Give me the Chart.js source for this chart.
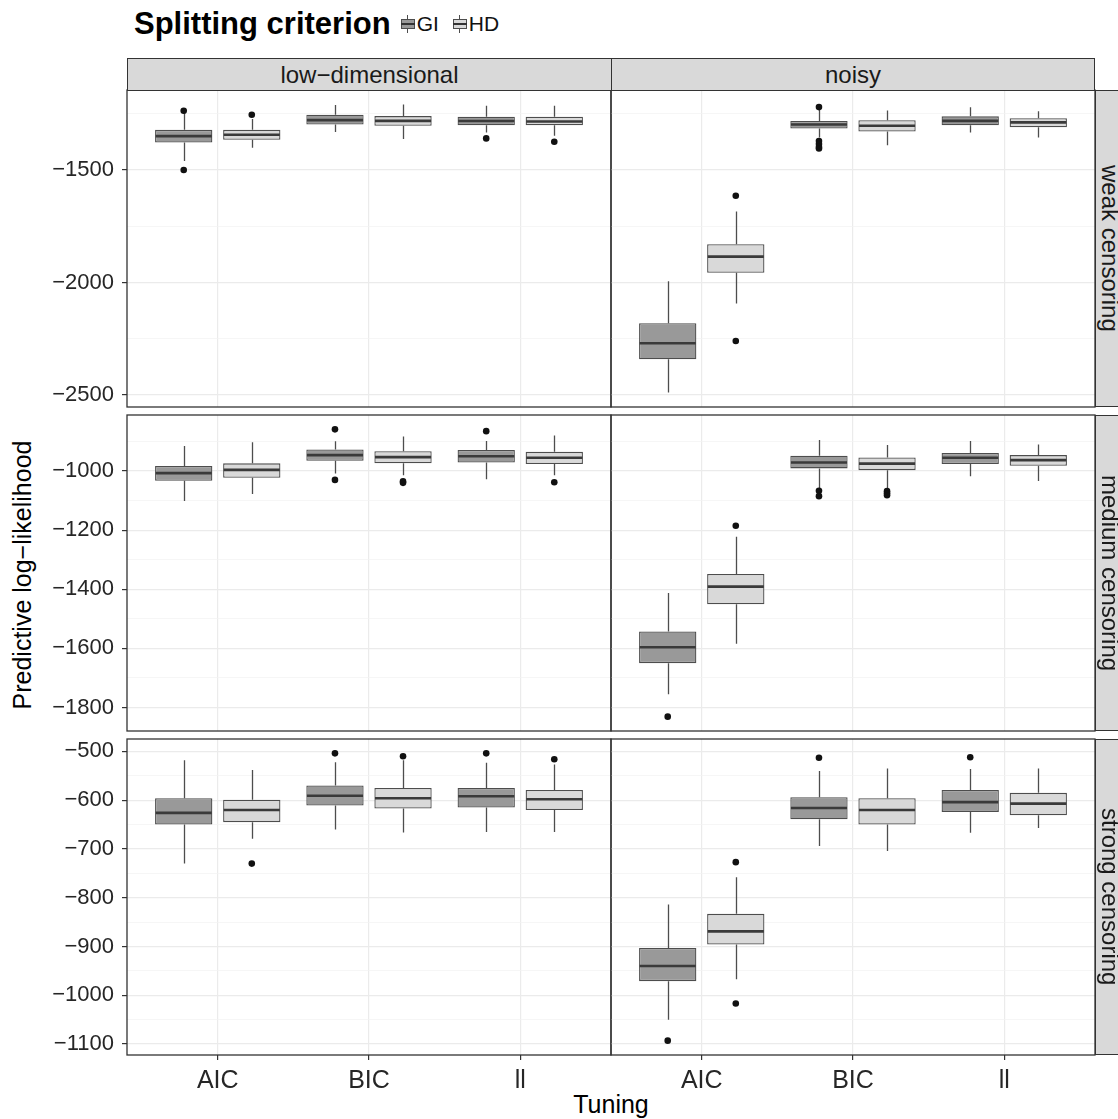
<!DOCTYPE html>
<html>
<head>
<meta charset="utf-8">
<script src="https://cdn.jsdelivr.net/npm/chart.js@4.4.1/dist/chart.umd.min.js"></script>
<style>
  html, body { margin:0; padding:0; background:#fff; width:1118px; height:1119px; overflow:hidden;
    font-family:"Liberation Sans", Arial, Helvetica, sans-serif; }
  #root { position:relative; width:1118px; height:1119px; overflow:hidden; }
  canvas.panel { position:absolute; }
  .strip-top { position:absolute; background:#d9d9d9; border:1.2px solid #333; box-sizing:border-box;
    display:flex; align-items:center; justify-content:center; font-size:24px; color:#1a1a1a; }
  .strip-right { position:absolute; background:#d9d9d9; border:1.2px solid #333; box-sizing:border-box;
    display:flex; align-items:center; justify-content:center; font-size:24px; color:#1a1a1a;
    writing-mode:vertical-rl; white-space:nowrap; }
  #title { position:absolute; left:134px; top:6px; display:flex; align-items:center; white-space:nowrap; }
  #title .t { font-weight:bold; font-size:31px; color:#000; margin-right:10px; }
  #title .lab { font-size:21px; color:#111; margin-left:2px; margin-right:14px; }
  .key { position:relative; display:inline-block; width:14px; height:18px; }
  .key .wh { position:absolute; left:6.5px; top:0; width:1.2px; height:18px; background:#4d4d4d; }
  .key .bx { position:absolute; left:0; top:4px; width:14px; height:10px; box-sizing:border-box; border:1.2px solid #4d4d4d; }
  .key .md { position:absolute; left:0; top:8.2px; width:14px; height:1.8px; background:#333; }
  #ytitle { position:absolute; left:-178px; top:560px; width:400px; height:30px; line-height:30px; text-align:center;
    transform:rotate(-90deg); font-size:25px; color:#000; white-space:nowrap; }
  #xtitle { position:absolute; left:411px; top:1089px; width:400px; height:30px; line-height:30px; text-align:center;
    font-size:25px; color:#000; }
</style>
</head>
<body>
<div id="root">
  <div id="title">
    <span class="t">Splitting criterion</span>
    <span class="key"><span class="wh"></span><span class="bx" style="background:#999999"></span><span class="md"></span></span><span class="lab">GI</span>
    <span class="key"><span class="wh"></span><span class="bx" style="background:#d9d9d9"></span><span class="md"></span></span><span class="lab">HD</span>
  </div>
  <div id="ytitle">Predictive log−likelihood</div>
  <div id="xtitle">Tuning</div>
</div>
<script>
// ---------------- DATA ----------------
const tunings = ['AIC', 'BIC', 'll'];
const dimensions = ['low−dimensional', 'noisy'];
const censorings = ['weak censoring', 'medium censoring', 'strong censoring'];
const criteria = ['GI', 'HD'];

// box statistics per tuning: [lower whisker, Q1, median, Q3, upper whisker]
const weakLowGI   = [[-1460, -1378, -1350, -1322, -1245], [-1331, -1298, -1279, -1255, -1212], [-1334, -1302, -1283, -1264, -1215]];
const weakLowHD   = [[-1402, -1366, -1344, -1322, -1274], [-1363, -1304, -1282, -1261, -1209], [-1348, -1302, -1285, -1264, -1215]];
const weakNoisyGI = [[-2489, -2341, -2270, -2181, -1994], [-1356, -1316, -1298, -1283, -1233], [-1334, -1302, -1282, -1262, -1222]];
const weakNoisyHD = [[-2093, -1957, -1885, -1830, -1685], [-1390, -1329, -1304, -1279, -1236], [-1356, -1311, -1289, -1270, -1239]];

const mediumLowGI   = [[-1101, -1033, -1007, -983, -915], [-1008, -965, -946, -927, -899], [-1028, -971, -950, -929, -898]];
const mediumLowHD   = [[-1078, -1023, -996, -974, -903], [-1014, -974, -953, -933, -883], [-1014, -976, -955, -935, -880]];
const mediumNoisyGI = [[-1755, -1650, -1596, -1543, -1413], [-1059, -991, -971, -948, -895], [-1018, -976, -955, -939, -898]];
const mediumNoisyHD = [[-1584, -1451, -1391, -1348, -1222], [-1061, -997, -975, -954, -912], [-1034, -982, -963, -946, -910]];

const strongLowGI   = [[-730, -650, -626, -596, -518], [-660, -611, -591, -570, -522], [-665, -615, -592, -575, -523]];
const strongLowHD   = [[-679, -645, -620, -599, -538], [-666, -617, -596, -575, -518], [-665, -620, -598, -579, -527]];
const strongNoisyGI = [[-1050, -971, -940, -903, -814], [-694, -639, -616, -594, -540], [-667, -624, -604, -579, -536]];
const strongNoisyHD = [[-967, -896, -869, -833, -758], [-704, -650, -620, -596, -535], [-657, -631, -607, -585, -535]];

// outliers per tuning
const weakLowGIOut   = [[-1237, -1500], [], [-1360]];
const weakLowHDOut   = [[-1255], [], [-1375]];
const weakNoisyGIOut = [[], [-1221, -1372, -1385, -1398, -1405], []];
const weakNoisyHDOut = [[-1615, -2260], [], []];

const mediumLowGIOut   = [[], [-859, -1030], [-865]];
const mediumLowHDOut   = [[], [-1035, -1040], [-1038]];
const mediumNoisyGIOut = [[-1831], [-1067, -1085], []];
const mediumNoisyHDOut = [[-1185], [-1068, -1075, -1082], []];

const strongLowGIOut   = [[], [-504], [-504]];
const strongLowHDOut   = [[-730], [-510], [-516]];
const strongNoisyGIOut = [[-1093], [-513], [-512]];
const strongNoisyHDOut = [[-727, -1017], [], []];

// y tick labels per censoring row
const weakTicks   = [-2500, -2000, -1500];
const mediumTicks = [-1800, -1600, -1400, -1200, -1000];
const strongTicks = [-1100, -1000, -900, -800, -700, -600, -500];

// ---------------- ASSEMBLY ----------------
const panels = [
  [{ GI: weakLowGI, HD: weakLowHD, GIOut: weakLowGIOut, HDOut: weakLowHDOut },
   { GI: weakNoisyGI, HD: weakNoisyHD, GIOut: weakNoisyGIOut, HDOut: weakNoisyHDOut }],
  [{ GI: mediumLowGI, HD: mediumLowHD, GIOut: mediumLowGIOut, HDOut: mediumLowHDOut },
   { GI: mediumNoisyGI, HD: mediumNoisyHD, GIOut: mediumNoisyGIOut, HDOut: mediumNoisyHDOut }],
  [{ GI: strongLowGI, HD: strongLowHD, GIOut: strongLowGIOut, HDOut: strongLowHDOut },
   { GI: strongNoisyGI, HD: strongNoisyHD, GIOut: strongNoisyGIOut, HDOut: strongNoisyHDOut }]
];
const rowTicks = [weakTicks, mediumTicks, strongTicks];

// layout (pixels)
const FONT = '"Liberation Sans", Arial, Helvetica, sans-serif';
const COL_X = [127, 611], COL_W = [484, 484];
const ROW_Y = [90, 415, 739], ROW_H = [317, 316, 316];
const PAD = 4, Y_AXIS_W = 127, X_AXIS_H = 50;
const STRIP_TOP_Y = 58, STRIP_TOP_H = 33, STRIP_RIGHT_W = 30;
const CAT_PCT = 0.9, BAR_PCT = 0.842;
const DODGE = CAT_PCT / 4;
const fillCol = { GI: '#999999', HD: '#d9d9d9' };

Chart.defaults.font.family = FONT;

function rowRange(r) {
  let lo = Infinity, hi = -Infinity;
  panels[r].forEach(p => criteria.forEach(g => {
    p[g].forEach(s => { lo = Math.min(lo, ...s); hi = Math.max(hi, ...s); });
    p[g + 'Out'].forEach(o => o.forEach(v => { lo = Math.min(lo, v); hi = Math.max(hi, v); }));
  }));
  const e = (hi - lo) * 0.05;
  return [lo - e, hi + e];
}

const fmt = v => (v < 0 ? '\u2212' : '') + Math.abs(v);

const boxPlugin = {
  id: 'boxExtras',
  beforeDatasetsDraw(chart) {
    const ctx = chart.ctx, y = chart.scales.y, a = chart.chartArea;
    ctx.save();
    ctx.beginPath(); ctx.rect(a.left, a.top, a.right - a.left, a.bottom - a.top); ctx.clip();
    ctx.strokeStyle = '#4d4d4d'; ctx.lineWidth = 1.3;
    chart.data.datasets.forEach((ds, i) => {
      if (!ds.stats) return;
      chart.getDatasetMeta(i).data.forEach((el, j) => {
        const s = ds.stats[j];
        const x = Math.round(el.x) + 0.5;
        ctx.beginPath();
        ctx.moveTo(x, y.getPixelForValue(s[0])); ctx.lineTo(x, y.getPixelForValue(s[1]));
        ctx.moveTo(x, y.getPixelForValue(s[3])); ctx.lineTo(x, y.getPixelForValue(s[4]));
        ctx.stroke();
      });
    });
    ctx.restore();
  },
  afterDatasetsDraw(chart) {
    const ctx = chart.ctx, y = chart.scales.y;
    ctx.save();
    ctx.strokeStyle = '#3a3a3a'; ctx.lineWidth = 2.6;
    chart.data.datasets.forEach((ds, i) => {
      if (!ds.stats) return;
      chart.getDatasetMeta(i).data.forEach((el, j) => {
        const s = ds.stats[j];
        const yy = y.getPixelForValue(s[2]);
        ctx.beginPath();
        ctx.moveTo(el.x - el.width / 2 + 0.6, yy); ctx.lineTo(el.x + el.width / 2 - 0.6, yy);
        ctx.stroke();
      });
    });
    ctx.restore();
  },
  afterDraw(chart) {
    const ctx = chart.ctx, a = chart.chartArea;
    ctx.save();
    ctx.strokeStyle = '#333333'; ctx.lineWidth = 1.3;
    ctx.strokeRect(a.left, a.top, a.right - a.left, a.bottom - a.top);
    ctx.restore();
  }
};

const root = document.getElementById('root');

function makePanel(r, c) {
  const p = panels[r][c];
  const isLeft = c === 0, isBottom = r === panels.length - 1;
  const left = isLeft ? 0 : COL_X[1] - PAD;
  const width = isLeft ? COL_X[1] + PAD : COL_W[1] + 2 * PAD;
  const top = ROW_Y[r] - PAD;
  const height = ROW_H[r] + PAD + (isBottom ? X_AXIS_H : PAD);
  const cv = document.createElement('canvas');
  cv.className = 'panel';
  cv.width = width; cv.height = height;
  Object.assign(cv.style, { left: left + 'px', top: top + 'px', width: width + 'px', height: height + 'px' });
  root.appendChild(cv);

  const majors = rowTicks[r];
  const step = majors[1] - majors[0];
  const [ymin, ymax] = rowRange(r);
  const all = [];
  majors.forEach(v => all.push(v));
  [majors[0] - step / 2, ...majors.map(v => v + step / 2)].forEach(v => { if (v > ymin && v < ymax) all.push(v); });
  all.sort((a, b) => a - b);
  const isMajor = v => majors.includes(v);

  const datasets = [];
  criteria.forEach((g, gi) => {
    const off = gi === 0 ? -DODGE : DODGE;
    datasets.push({
      type: 'scatter', label: g + ' outliers',
      data: tunings.flatMap((t, i) => p[g + 'Out'][i].map(v => ({ x: i + 1 + off, y: v }))),
      pointRadius: 3.3, pointBackgroundColor: '#111', pointBorderWidth: 0, pointHoverRadius: 3.3
    });
  });
  criteria.forEach(g => {
    datasets.push({
      type: 'bar', label: g,
      data: tunings.map((t, i) => ({ x: i + 1, y: [p[g][i][1], p[g][i][3]] })),
      stats: p[g],
      backgroundColor: fillCol[g], borderColor: '#4d4d4d', borderWidth: 1.3, borderSkipped: false,
      categoryPercentage: CAT_PCT, barPercentage: BAR_PCT
    });
  });

  new Chart(cv, {
    type: 'bar',
    data: { datasets },
    options: {
      responsive: false, animation: false, events: [],
      layout: { padding: { left: isLeft ? 0 : PAD, right: PAD, top: PAD, bottom: isBottom ? 0 : PAD } },
      plugins: { legend: { display: false }, tooltip: { enabled: false } },
      scales: {
        x: {
          type: 'linear', min: 0.4, max: 3.6, offset: false,
          afterBuildTicks: s => { s.ticks = tunings.map((t, i) => ({ value: i + 1 })); },
          afterFit: s => { s.height = isBottom ? X_AXIS_H : 0; s.paddingLeft = 0; s.paddingRight = 0; },
          border: { display: false },
          grid: { offset: false, color: '#ebebeb', lineWidth: 1.2, drawTicks: isBottom, tickLength: 5, tickColor: '#333', tickWidth: 1.2 },
          ticks: { display: isBottom, autoSkip: false, maxRotation: 0, minRotation: 0, padding: 6,
            font: { size: 25, family: FONT }, color: '#262626', callback: v => tunings[Math.round(v) - 1] }
        },
        y: {
          type: 'linear', min: ymin, max: ymax,
          afterBuildTicks: s => { s.ticks = all.map(v => ({ value: v })); },
          afterFit: s => { s.width = isLeft ? Y_AXIS_W : 0; s.paddingTop = 0; s.paddingBottom = 0; },
          border: { display: false },
          grid: {
            color: ctx => (ctx.tick && !isMajor(ctx.tick.value)) ? '#f2f2f2' : '#ebebeb',
            lineWidth: ctx => (ctx.tick && !isMajor(ctx.tick.value)) ? 0.7 : 1.2,
            drawTicks: isLeft, tickLength: 5, tickWidth: 1.2,
            tickColor: ctx => (ctx.tick && isMajor(ctx.tick.value)) ? '#333' : 'rgba(0,0,0,0)'
          },
          ticks: { display: isLeft, autoSkip: false, padding: 8, font: { size: 22, family: FONT }, color: '#262626',
            callback: v => isMajor(v) ? fmt(v) : '' }
        }
      }
    },
    plugins: [boxPlugin]
  });
}

panels.forEach((row, r) => row.forEach((p, c) => makePanel(r, c)));

// facet strips
dimensions.forEach((d, c) => {
  const el = document.createElement('div');
  el.className = 'strip-top';
  Object.assign(el.style, { left: COL_X[c] + 'px', top: STRIP_TOP_Y + 'px', width: (c === 0 ? COL_X[1] - COL_X[0] + 1 : COL_W[1]) + 'px', height: STRIP_TOP_H + 'px' });
  el.textContent = d;
  root.appendChild(el);
});
censorings.forEach((s, r) => {
  const el = document.createElement('div');
  el.className = 'strip-right';
  Object.assign(el.style, { left: (COL_X[1] + COL_W[1]) + 'px', top: ROW_Y[r] + 'px', width: STRIP_RIGHT_W + 'px', height: ROW_H[r] + 'px' });
  el.textContent = s;
  root.appendChild(el);
});
</script>
</body>
</html>
